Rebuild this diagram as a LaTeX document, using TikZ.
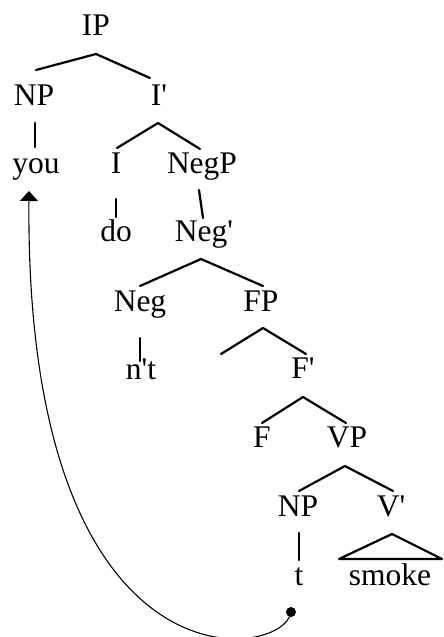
\documentclass[tikz,border=0pt]{standalone}
\usepackage{fontspec}
\newfontfamily\treefont{Liberation Serif}[Ligatures=TeXOff]
\usetikzlibrary{calc,arrows.meta}
\begin{document}
\begin{tikzpicture}[x=1pt,y=1pt,
  lbl/.style={inner sep=0pt,anchor=base,font=\treefont\fontsize{31.5}{36}\selectfont},
  br/.style={line width=2.2pt,line cap=round,line join=round},
  mv/.style={line width=1.1pt}]
\useasboundingbox (0,0) rectangle (444,-637);
% labels
\node[lbl] (IP) at (96,-35) {IP};
\node[lbl] (NPa) at (34,-105) {NP};
\node[lbl] (Ib) at (159,-105) {I'};
\node[lbl] (you) at (36,-173) {you};
\node[lbl] (I) at (116,-173) {I};
\node[lbl] (NegP) at (202,-173) {NegP};
\node[lbl] (do) at (116,-241) {do};
\node[lbl] (Negb) at (204,-241) {Neg'};
\node[lbl] (Neg) at (140,-311) {Neg};
\node[lbl] (FP) at (261,-311) {FP};
\node[lbl] (nt) at (141,-379) {n't};
\node[lbl] (Fb) at (303,-378) {F'};
\node[lbl] (F) at (262,-447) {F};
\node[lbl] (VP) at (347,-447) {VP};
\node[lbl] (NPb) at (298,-516) {NP};
\node[lbl] (Vb) at (391,-516) {V'};
\node[lbl] (t) at (299,-585) {t};
\node[lbl] (smoke) at (390,-585) {smoke};
\coordinate (FPleft) at (221,-354);
% branches
\draw[br] ($(NPa.base)+(2,35)$) -- ($(IP.base)+(0,-19)$) -- ($(Ib.base)+(-9,27)$);
\draw[br] ($(NPa.base)+(1,-18)$) -- ($(you.base)+(-1,26)$);
\draw[br] ($(I.base)+(1,25)$) -- ($(Ib.base)+(-1,-18)$) -- ($(NegP.base)+(-2,24)$);
\draw[br] ($(I.base)+(0,-26)$) -- ($(do.base)+(0,24)$);
\draw[br] ($(NegP.base)+(-3,-17)$) -- ($(Negb.base)+(-1,23)$);
\draw[br] ($(Neg.base)+(0,25)$) -- ($(Negb.base)+(-3,-18)$) -- ($(FP.base)+(2,25)$);
\draw[br] ($(Neg.base)+(0,-27)$) -- ($(nt.base)+(-1,18)$);
\draw[br] (FPleft) -- ($(FP.base)+(2,-17)$) -- ($(Fb.base)+(3,24)$);
\draw[br] ($(F.base)+(0,24)$) -- ($(Fb.base)+(0,-19)$) -- ($(VP.base)+(-1,24)$);
\draw[br] ($(NPb.base)+(1,25)$) -- ($(VP.base)+(-2,-19)$) -- ($(Vb.base)+(2,25)$);
\draw[br] ($(NPb.base)+(1,-17)$) -- ($(t.base)+(0,25)$);
\draw[br] ($(smoke.base)+(-51,26)$) -- ($(Vb.base)+(1,-18)$) -- ($(smoke.base)+(52,26)$) -- cycle;
% movement
\node[circle,fill,inner sep=0pt,minimum size=10pt] (dot) at (291,-612) {};
\draw[mv,-{Triangle[width=18pt,length=10pt]}] (dot.center) .. controls (285,-660) and (25,-700) .. ($(you.base)+(-7,-18)$);
\end{tikzpicture}
\end{document}
